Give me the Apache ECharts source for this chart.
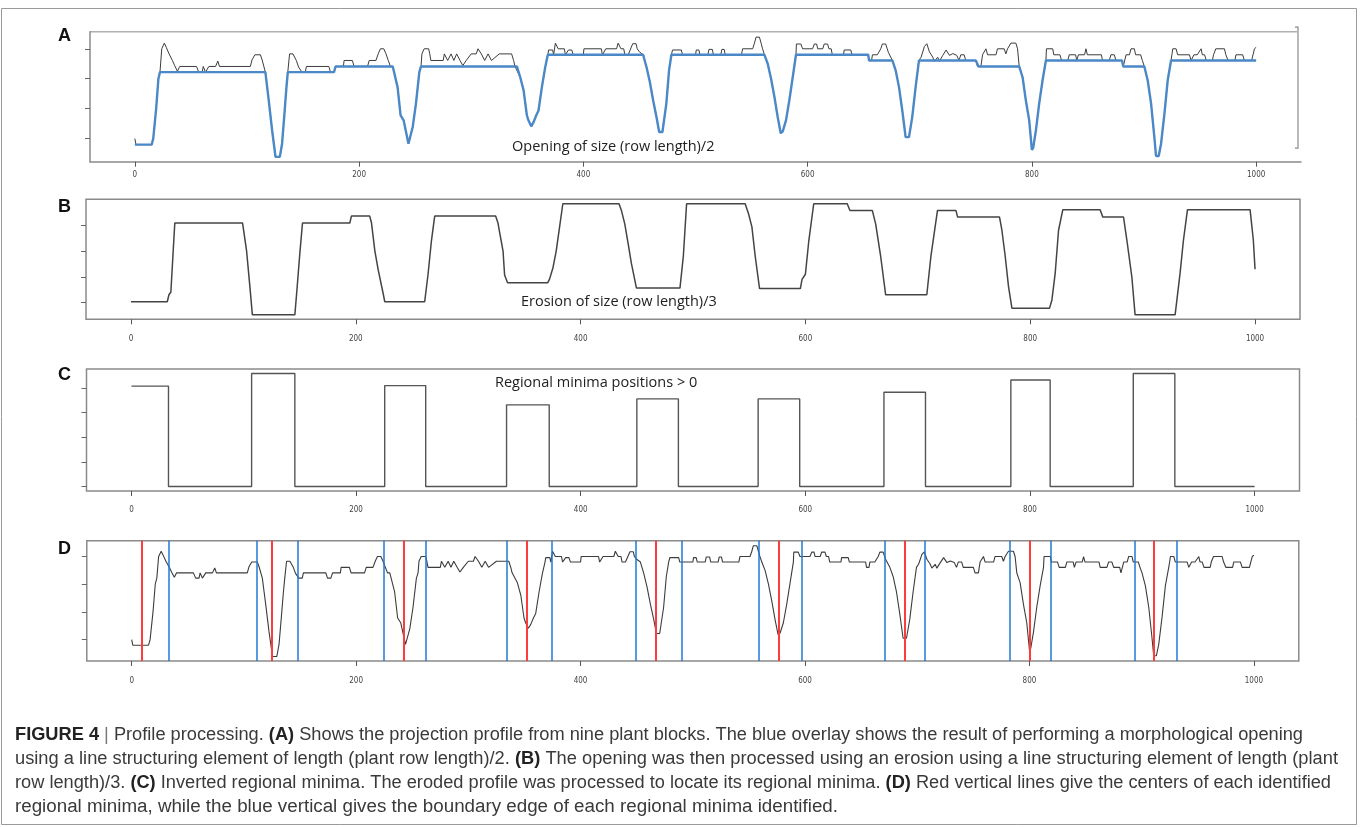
<!DOCTYPE html>
<html>
<head>
<meta charset="utf-8">
<script src="https://cdn.jsdelivr.net/npm/echarts@6/dist/echarts.min.js"></script>
<style>
html,body{margin:0;padding:0;background:#fff;}
#chart{width:1360px;height:827px;}
</style>
</head>
<body>
<div id="chart"></div>
<script>
// Column positions labelled along every panel's horizontal axis
const xTicks = [0, 200, 400, 600, 800, 1000];
// Unlabelled tick marks on the vertical axes
const profileTicks = [100, 200, 300, 400];
const erosionTicks = [100, 200, 300, 400];
const minimaTicks = [0, 100, 200, 300, 400];

// Projection profile of the nine plant blocks: [column, sum]
const profile = [
  [0,100],[1,80],[15,80],[16.4,100],[19,200],[21,300],[22.4,322],[24,400],[26.3,419],[28,405],[30.5,383],[33.5,361],[35.5,344],[38,325],
  [40,341],[55,341],[57,322],[60,322],[61,341],[62.4,341],[63,322],[64.5,322],[66,341],[72,341],[74,359],[75.5,341],[103,341],
  [104.5,363],[107,380],[112,380],[113.5,363],
  [116.4,322],[119.4,228],[122.4,128],[124.5,67],[125.4,39],[129.3,39],[131.3,83],[133.4,183],[135.2,272],[136.4,322],
  [138,383],[141,383],[144,361],[146,339],[149,322],[152,322],[153,341],[173,341],[174.5,322],[177.5,322],[179,341],[186,341],
  [186.6,361],[194,361],[195.5,341],[207.5,341],[209,361],[215,361],[217,383],[219,400],[222,400],[224,383],[226,361],[228,341],[230,341],
  [234.3,272],[237,178],[239.7,161],[244,83],[244.8,80],[247.8,139],[250.7,217],[253.7,322],[255.2,341],
  [256,383],[258,400],[262,400],[263,383],[264,361],[275,361],[276,383],[279,361],[282,383],[284.5,361],[287,383],[290,361],
  [292.5,344],[295.5,361],[300,383],[304.5,383],[306,400],[309,383],[312,361],[315,383],[318,361],[325,383],[336,383],
  [337.8,361],[339,341],[340.7,341],
  [343.7,305],[346.7,261],[349.6,178],[351,161],[353.5,141],[355.6,155],[358,178],[360,194],[363,272],[366,339],[368.3,380],
  [369,396],[372.6,396],[373.5,380],[375,419],[376.5,419],[377.5,400],[383,400],[384,380],[386.7,396],[389.6,396],[391,380],
  [400,380],[400.5,400],[416,400],[417,380],[420,400],[429.6,400],[431,419],[432.6,419],[433.5,400],[436,400],[437,380],
  [440,380],[444,417],[447,417],[448,400],[450,390],[453.3,380],
  [456.3,339],[459.3,289],[462.2,228],[465.2,172],[467.6,122],[470.5,122],[474,217],[476.4,328],[478.5,380],
  [479.5,396],[487.4,396],[488.4,380],[500,380],[500.7,396],[503,396],[504,380],[511,380],[512,398],[515,398],[516,380],
  [522.6,380],[523.5,398],[525.6,398],[526.5,380],[541,380],[542,400],[551,400],[552.6,419],[554,439],[557,439],[558.5,419],
  [559.8,400],[561.5,380],
  [564.4,350],[567.4,300],[570.4,239],[573.3,172],[576,118],[577.8,124],[580.7,161],[583.7,228],[586.7,305],[589.6,380],
  [590,416],[594,416],[595.5,400],[604.4,400],[606,416],[608,416],[609,400],[613.5,400],[614.8,416],[617.8,416],[619,400],
  [621,400],[622,380],[632,380],[632.6,396],[638.5,396],[639.5,380],[654,380],[654.8,361],[657,361],[657.8,380],[662.2,380],
  [665.2,400],[666.7,416],[669.6,416],[671,400],[672,388],[675.6,361],
  [678.5,328],[681.5,272],[684.4,194],[687.4,105],[688.9,100],[690.4,105],[693.3,172],[696.3,272],[699.3,361],
  [701.2,372],[704.2,408],[706.3,417],[708.6,390],[711.6,372],[713,358],[716,372],[717.5,358],[720.5,378],[723.5,396],
  [726.5,378],[729.5,384],[733,378],[735,361],[736.6,380],[739.6,380],[741,361],[750,361],[751.5,341],[754.5,341],[756,380],
  [757.5,380],[759,400],[760.5,380],[768,380],[769.3,400],[775.3,400],[776.8,383],[778.3,400],[779.8,400],[781.3,419],
  [785.7,419],[787.2,400],[788.7,341],
  [791.7,305],[794.6,228],[797.6,161],[800,62],[801.2,70],[803.6,128],[806.5,217],[809.5,294],[812.5,361],
  [813,400],[818.6,400],[819.5,380],[825,380],[826.5,361],[832,361],[833.3,380],[839,380],[840,361],[841.5,380],[847,380],
  [848.2,400],[849.5,380],[862,380],[863,361],[869,361],[870.5,380],[873.5,380],[875,361],[880.4,361],[881.5,341],[883,341],
  [884,380],[887,380],[888.4,400],[891.4,400],[892.5,380],[897,380],[898.5,361],[900.3,341],
  [903.3,294],[906.3,217],[909.2,106],[910.7,42],[913.1,42],[915.2,83],[918.2,183],[921.1,294],[924.1,361],
  [925,383],[925.6,400],[928.6,400],[930,380],[940.5,380],[942,361],[944.5,380],[947.5,380],[950.9,400],[952,380],[954,380],
  [955.5,361],[961,361],[962,380],[964,400],[971.7,400],[973,380],[975,361],[981,361],[982,380],[988,380],[989.5,361],
  [996,361],[998.5,400],[1000,405]
];

// Morphological opening of the profile, element length (row length)/2
const opening = [
  [0,80],[15,80],[16.4,100],[19,200],[21,300],[22.4,322],[116.4,322],
  [119.4,228],[122.4,128],[124.5,67],[125.4,39],[129.3,39],[131.3,83],[133.4,183],[135.2,272],[136.4,322],
  [177.6,322],[179,341],[230,341],
  [234.3,272],[237,178],[239.7,161],[244,83],[244.8,80],[247.8,139],[250.7,217],[253.7,322],[255.2,341],
  [340.7,341],
  [343.7,305],[346.7,261],[349.6,178],[351,161],[353.5,141],[355.6,155],[358,178],[360,194],[363,272],[366,339],[368.3,380],
  [453.3,380],
  [456.3,339],[459.3,289],[462.2,228],[465.2,172],[467.6,122],[470.5,122],[474,217],[476.4,328],[478.5,380],
  [561.5,380],
  [564.4,350],[567.4,300],[570.4,239],[573.3,172],[576,118],[577.8,124],[580.7,161],[583.7,228],[586.7,305],[589.6,380],
  [654,380],[654.8,361],[675.6,361],
  [678.5,328],[681.5,272],[684.4,194],[687.4,105],[688.9,100],[690.4,105],[693.3,172],[696.3,272],[699.3,361],
  [750,361],[752.4,341],[788.7,341],
  [791.7,305],[794.6,228],[797.6,161],[800,62],[801.2,70],[803.6,128],[806.5,217],[809.5,294],[812.5,361],
  [880.4,361],[881.5,341],[900.3,341],
  [903.3,294],[906.3,217],[909.2,106],[910.7,42],[913.1,42],[915.2,83],[918.2,183],[921.1,294],[924.1,361],
  [1000,361]
];

// Erosion of the opened profile, element length (row length)/3
const erosion = [
  [0,103],[32.3,103],[33.8,130],[35.5,140],[37.6,303],[39,409],[99.3,409],[102.8,303],[105.8,162],[108,52],
  [145.8,52],[147.9,162],[150.2,290],[152.6,409],[194.7,409],[196.1,436],[212.4,436],[214,409],[217,300],[220,226],
  [224.3,136],[225.8,103],[261.3,103],[264.3,210],[267.3,340],[270.2,436],[324.4,436],[326.5,409],[331,300],[332.4,207],
  [335,177],[370.8,177],[372.3,190],[375.3,233],[378.3,300],[384.2,484],[434.2,484],[436.3,458],[439.3,406],[442.3,329],
  [445.2,252],[449.7,156],[488.4,156],[491.4,280],[494.3,484],[546.4,484],[549.4,445],[552.4,394],[555.4,278],[559.2,154],
  [595.5,154],[597,190],[600,210],[603,339],[607.4,484],[637.2,484],[639.6,458],[659.5,458],[662.5,406],[667,278],
  [671.4,130],[708,130],[711.6,278],[717.5,458],[733.9,458],[735.4,432],[772.7,432],[774.8,381],[777.8,278],[780.7,162],
  [783.7,78],[817.2,78],[819.3,110],[822.2,213],[825.2,381],[829,461],[862.2,461],[864.6,432],[883,432],[886,342],
  [890.4,200],[893.3,52],[928.9,52],[933.3,213],[936.3,342],[939.9,461],[995.6,461],[998.5,342],[1000,229]
];

// Inverted regional minima of the eroded profile
const minimaStart  = [0, 107, 225.5, 334, 450, 558, 670, 783, 892];
const minimaEnd    = [33, 145.5, 262, 372, 487, 595, 707, 818, 929];
const minimaHeight = [407, 458, 409, 331, 355, 355, 382, 432, 458];

// Centres (red) and boundary edges (blue) of the identified minima
const centres = [9, 125, 242, 352, 467, 577, 689, 800, 911];
const edges = [33, 111, 148, 225, 262, 334, 374, 449, 490, 559, 597, 671, 707, 782, 819, 894, 931];

// Step outline of the minima panel
const minimaLine = [];
minimaStart.forEach((s, i) => {
  if (s > 0) { minimaLine.push([s, 0]); }
  minimaLine.push([s, minimaHeight[i]]);
  minimaLine.push([minimaEnd[i], minimaHeight[i]]);
  minimaLine.push([minimaEnd[i], 0]);
});
minimaLine.push([1000, 0]);

const panels = [
  { grid: { left: 90, top: 31.7, width: 1211, height: 130 }, y: [22.9, 457.1], ticks: profileTicks, margin: 9, box: false },
  { grid: { left: 86, top: 199.3, width: 1214, height: 120 }, y: [34.7, 501.3], ticks: erosionTicks, margin: 16, box: true },
  { grid: { left: 86.5, top: 369, width: 1213, height: 122 }, y: [-18.3, 476.3], ticks: minimaTicks, margin: 15, box: true },
  { grid: { left: 86.8, top: 540.7, width: 1212, height: 120.3 }, y: [22.9, 457.1], ticks: profileTicks, margin: 16, box: true }
];

const grids = panels.map(p => Object.assign({
  show: p.box, borderColor: '#8a8a8a', borderWidth: 1.5, containLabel: false
}, p.grid));

const xAxes = panels.map((p, i) => ({
  type: 'value', gridIndex: i, min: -40, max: 1040, position: 'bottom',
  axisLine: { show: !p.box, onZero: false, lineStyle: { color: '#8a8a8a', width: 1.5 } },
  splitLine: { show: false },
  axisTick: { show: true, customValues: xTicks, length: 5, lineStyle: { color: '#555', width: 1 } },
  axisLabel: { show: true, customValues: xTicks, margin: p.margin, fontSize: 8,
    formatter: v => String(v),
    fontFamily: '"Liberation Sans Narrow","DejaVu Sans Condensed","Liberation Sans"', color: '#444' }
}));

const yAxes = panels.map((p, i) => ({
  type: 'value', gridIndex: i, min: p.y[0], max: p.y[1], position: 'left',
  axisLine: { show: !p.box, onZero: false, lineStyle: { color: '#8a8a8a', width: 1.5 } },
  splitLine: { show: false },
  axisTick: { show: true, customValues: p.ticks, length: 5, lineStyle: { color: '#666', width: 1 } },
  axisLabel: { show: false }
}));

const series = [
  { type: 'line', xAxisIndex: 0, yAxisIndex: 0, data: profile, showSymbol: false, symbol: 'none',
    lineStyle: { color: '#3c3c3c', width: 1 }, z: 2 },
  { type: 'line', xAxisIndex: 0, yAxisIndex: 0, data: opening, showSymbol: false, symbol: 'none',
    lineStyle: { color: '#4a88c8', width: 2.4 }, z: 3 },
  { type: 'line', xAxisIndex: 1, yAxisIndex: 1, data: erosion, showSymbol: false, symbol: 'none',
    lineStyle: { color: '#444', width: 1.5 } },
  { type: 'line', xAxisIndex: 2, yAxisIndex: 2, data: minimaLine, showSymbol: false, symbol: 'none',
    lineStyle: { color: '#555', width: 1.4 } },
  { type: 'line', xAxisIndex: 3, yAxisIndex: 3, data: profile, showSymbol: false, symbol: 'none',
    lineStyle: { color: '#3c3c3c', width: 1.1 }, z: 4,
    markLine: { silent: true, symbol: 'none', animation: false, label: { show: false },
      lineStyle: { color: '#ff3b3b', width: 2, type: 'solid' },
      data: centres.map(c => ({ xAxis: c })) } },
  { type: 'line', xAxisIndex: 3, yAxisIndex: 3, data: [], showSymbol: false,
    markLine: { silent: true, symbol: 'none', animation: false, label: { show: false },
      lineStyle: { color: '#2178d4', width: 1.5, type: 'solid' },
      data: edges.map(c => ({ xAxis: c })) } }
];

// Caption lines; 'b' parts are bold
const captionLines = [
  [['b','FIGURE 4'],['p',' | '],['n','Profile processing. '],['b','(A)'],['n',' Shows the projection profile from nine plant blocks. The blue overlay shows the result of performing a morphological opening']],
  [['n','using a line structuring element of length (plant row length)/2. '],['b','(B)'],['n',' The opening was then processed using an erosion using a line structuring element of length (plant']],
  [['n','row length)/3. '],['b','(C)'],['n',' Inverted regional minima. The eroded profile was processed to locate its regional minima. '],['b','(D)'],['n',' Red vertical lines give the centers of each identified']],
  [['n','regional minima, while the blue vertical gives the boundary edge of each regional minima identified.']]
];
const captionRight = [1303, 1338, 1331, 838];
const captionY = [735, 759, 783, 807];

const capSize = 18;
const mctx = document.createElement('canvas').getContext('2d');
function segWidth(seg) {
  mctx.font = (seg[0] === 'b' ? 'bold ' : '') + capSize + 'px "Liberation Sans"';
  return mctx.measureText(seg[1]).width;
}

const graphics = [];
// Figure frame
graphics.push({ type: 'rect', shape: { x: 1.5, y: 8.5, width: 1355, height: 816 },
  style: { fill: 'none', stroke: '#9a9a9a', lineWidth: 1 }, z: 0 });

// Panel A frame: light top edge and a bracket on the right
const ga = panels[0].grid;
graphics.push({ type: 'line', shape: { x1: ga.left, y1: ga.top, x2: ga.left + ga.width - 4, y2: ga.top },
  style: { stroke: '#b0b0b0', lineWidth: 1.5 } });
graphics.push({ type: 'polyline', shape: { points: [
    [ga.left + ga.width - 6, ga.top - 4.5], [ga.left + ga.width - 3, ga.top - 4.5],
    [ga.left + ga.width - 3, ga.top + ga.height - 13.5], [ga.left + ga.width - 6, ga.top + ga.height - 13.5]] },
  style: { stroke: '#8a8a8a', lineWidth: 1.2, fill: 'none' } });

['A', 'B', 'C', 'D'].forEach((t, i) => {
  graphics.push({ type: 'text', x: 58, y: [36, 207, 375, 549][i],
    style: { text: t, font: 'bold 18px "Liberation Sans", Arial, sans-serif', fill: '#111', verticalAlign: 'middle' } });
});
const noteFont = '14.5px "Open Sans", sans-serif';
graphics.push({ type: 'text', x: 512, y: 146.5,
  style: { text: 'Opening of size (row length)/2', font: noteFont, fill: '#222', verticalAlign: 'middle' } });
graphics.push({ type: 'text', x: 521, y: 301.5,
  style: { text: 'Erosion of size (row length)/3', font: noteFont, fill: '#222', verticalAlign: 'middle' } });
graphics.push({ type: 'text', x: 495, y: 383,
  style: { text: 'Regional minima positions > 0', font: noteFont, fill: '#222', verticalAlign: 'middle' } });

captionLines.forEach((line, i) => {
  const natural = line.reduce((s, seg) => s + segWidth(seg), 0);
  const sx = (captionRight[i] - 15) / natural;
  const text = line.map(seg => '{' + seg[0] + '|' + seg[1] + '}').join('');
  graphics.push({ type: 'text', x: 15, y: captionY[i], scaleX: sx,
    style: { text: text, fill: '#333', verticalAlign: 'middle',
      rich: {
        n: { fontFamily: '"Liberation Sans"', fontSize: capSize, fill: '#3a3a3a' },
        b: { fontFamily: '"Liberation Sans"', fontSize: capSize, fontWeight: 'bold', fill: '#222' },
        p: { fontFamily: '"Liberation Sans"', fontSize: capSize, fill: '#777' }
      } } });
});

const chart = echarts.init(document.getElementById('chart'), null, { renderer: 'canvas' });
chart.setOption({
  animation: false,
  backgroundColor: '#fff',
  grid: grids,
  xAxis: xAxes,
  yAxis: yAxes,
  series: series,
  graphic: graphics
});
</script>
</body>
</html>
